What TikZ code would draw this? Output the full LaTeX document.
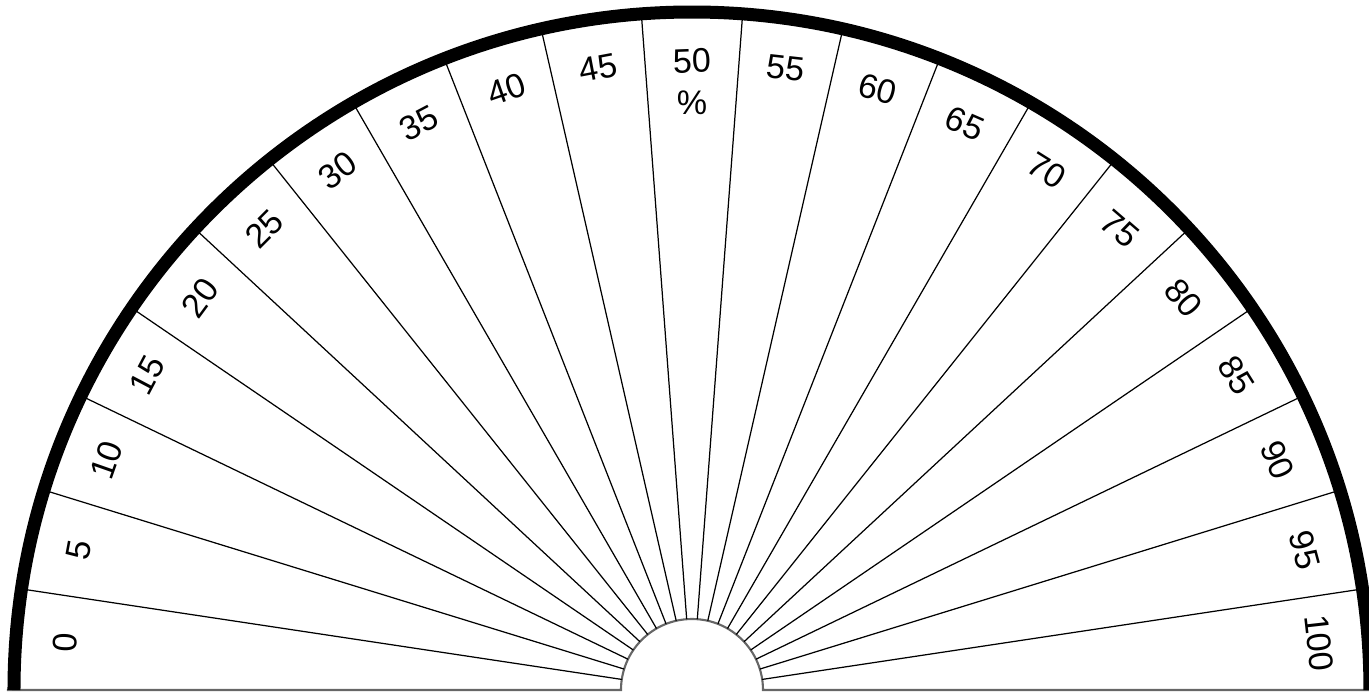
\documentclass[tikz,border=0pt]{standalone}
\usepackage{fontspec}
\setmainfont{Liberation Sans}
\usetikzlibrary{calc}

\tikzset{
  rim/.style={line width=3.7pt, line cap=butt},
  spoke/.style={line width=0.35pt, black},
  edge/.style={line width=0.6pt, draw=black!60},
  pct/.style={font=\fontsize{9.7}{12.2}\selectfont, inner sep=0pt}
}

\begin{document}
\begin{tikzpicture}[x=0.1mm, y=0.1mm]
    % Khung ảnh, tâm của nửa đường tròn ở gốc toạ độ
    \useasboundingbox (-692,-4) rectangle (677,690);
    \coordinate (O) at (0,0);
    \coordinate (hubL) at (180:71);
    \coordinate (hubR) at (0:71);
    \coordinate (rimL) at (180:685);
    \coordinate (rimR) at (0:690);

    % Đường đáy và nửa đường tròn nhỏ ở giữa
    \draw[edge] (rimL) -- (hubL) arc[start angle=180, end angle=0, radius=71] -- (rimR);

    % 21 ô chia đều nửa đường tròn
    \foreach \k in {1,...,20}
        \draw[spoke] ({180*\k/21}:71) -- ({180*\k/21}:678);

    % Vành ngoài đậm
    \draw[rim] (180:678) arc[start angle=180, end angle=0, radius=678];

    % Nhãn phần trăm, xoay theo bán kính
    \foreach \v [count=\i from 0] in {0,5,...,100}
        \node[pct, rotate={87.857-\i*180/21}] (p\v) at ({175.714-\i*180/21}:629) {\v};
    \node[pct] (unit) at (90:587) {\%};
\end{tikzpicture}
\end{document}
